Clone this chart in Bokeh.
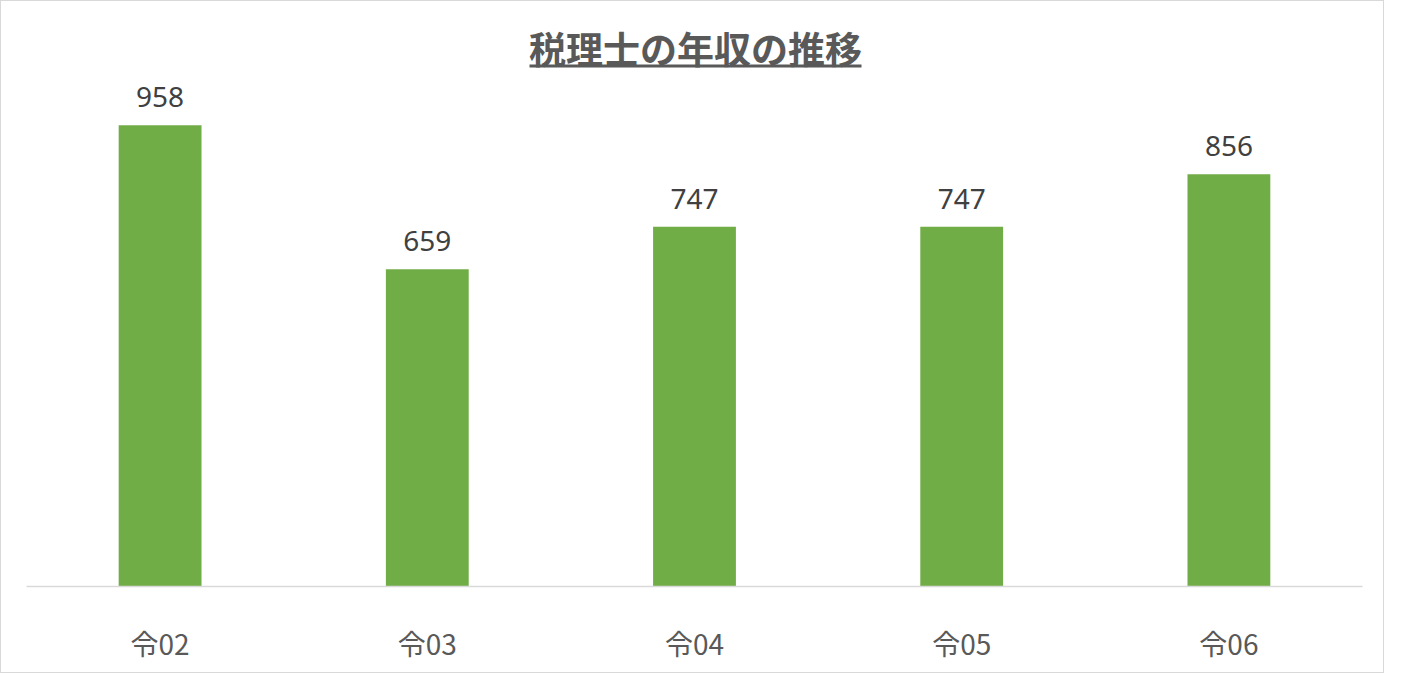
from bokeh.plotting import figure
from bokeh.models import ColumnDataSource, Range1d, FactorRange, Label, BoxAnnotation
from bokeh.core.properties import value
from bokeh.embed import file_html
from bokeh.resources import INLINE

categories = ["令02", "令03", "令04", "令05", "令06"]
incomes = [958, 659, 747, 747, 856]
labels = [str(v) for v in incomes]
title_text = "税理士の年収の推移"

W, H = 1384, 673
ML, MR, MT, MB = 25, 23, 0, 88
FRAME_H = H - MT - MB
FRAME_W = W - ML - MR

src = ColumnDataSource(dict(cat=categories, val=incomes, lab=labels))

p = figure(width=W, height=H, x_range=FactorRange(factors=categories, range_padding=0),
           y_range=Range1d(0, 1215), output_backend="svg", toolbar_location=None,
           min_border_left=ML, min_border_right=MR, min_border_top=MT, min_border_bottom=MB)
p.styles = {"border": "1px solid #D9D9D9"}
p.outline_line_color = None
p.background_fill_color = "white"
p.border_fill_color = "white"
p.xgrid.grid_line_color = None
p.ygrid.grid_line_color = None
p.yaxis.visible = False

p.vbar(x="cat", top="val", width=0.31, source=src, fill_color="#70AD47", line_color=None)
p.text(x="cat", y="val", text="lab", source=src, y_offset=-18, text_align="center",
       text_baseline="bottom", text_font=value("Noto Sans"), text_font_size="28px",
       text_color="#404040")

ax = p.xaxis[0]
ax.axis_line_color = "#D9D9D9"
ax.axis_line_width = 1.5
ax.major_tick_line_color = None
ax.minor_tick_line_color = None
ax.major_label_text_font = "Noto Sans CJK JP"
ax.major_label_text_font_size = "28px"
ax.major_label_text_color = "#595959"
ax.major_label_standoff = 30

cx = FRAME_W / 2 + 1
p.add_layout(Label(x=cx, y=FRAME_H - 46, x_units="screen", y_units="screen", text=title_text,
                   text_align="center", text_baseline="middle", text_font="Noto Sans CJK JP",
                   text_font_size="37px", text_font_style="bold", text_color="#595959"))
p.add_layout(BoxAnnotation(left=cx - 166, right=cx + 166, top=FRAME_H - 63, bottom=FRAME_H - 66,
                           left_units="screen", right_units="screen", top_units="screen",
                           bottom_units="screen", fill_color="#595959", fill_alpha=1,
                           line_color=None))

open("out.html", "w").write(file_html(p, INLINE))
